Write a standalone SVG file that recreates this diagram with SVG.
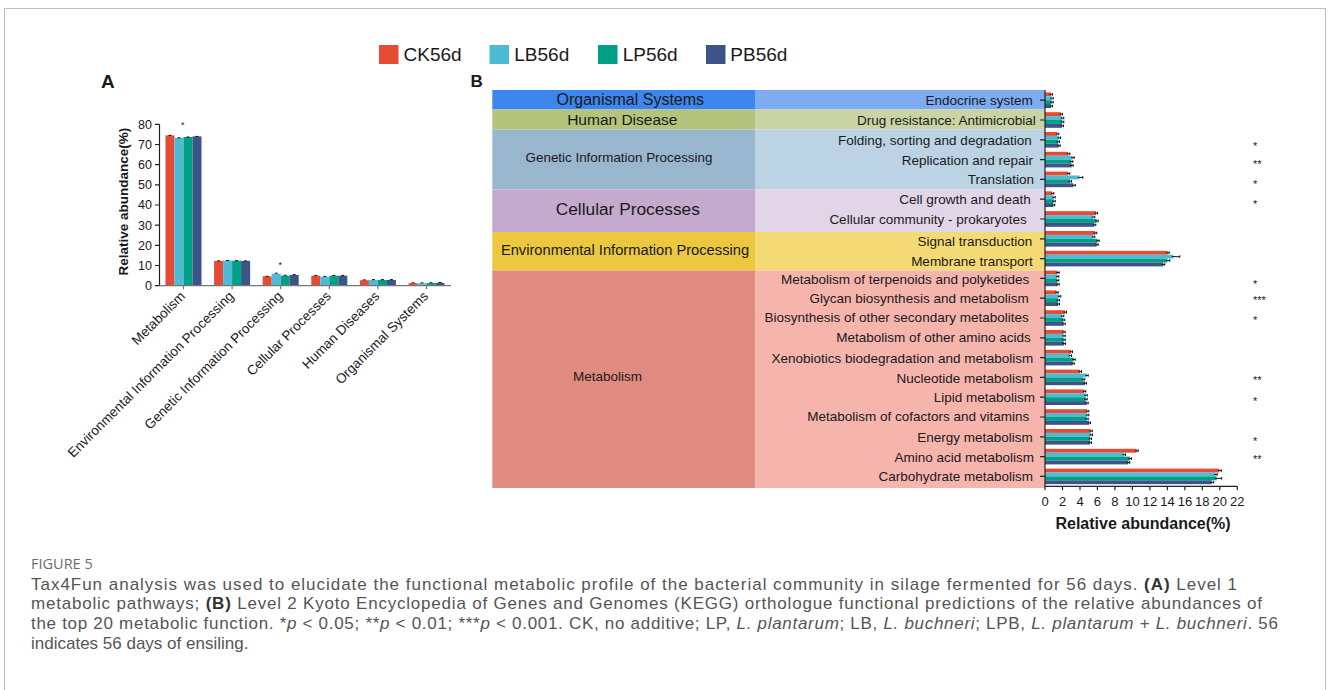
<svg xmlns="http://www.w3.org/2000/svg" width="1328" height="690" viewBox="0 0 1328 690">
<style>
text{font-family:"Liberation Sans",Arial,sans-serif;fill:#1a1a1a}
.ck{fill:#E64B35}.lb{fill:#4DBBD5}.lp{fill:#00A087}.pb{fill:#3C5488}
.eb{stroke:#111;stroke-width:1;fill:none}
.ax{stroke:#222;stroke-width:1.2;fill:none}
.tk{font-size:12.5px;text-anchor:end}
.xl{font-size:13.5px;text-anchor:end}
.rl{font-size:13.5px;text-anchor:end}
.st{font-size:11px}
.bt{font-size:13px;text-anchor:middle}
.cap{font-family:"Liberation Sans",Arial,sans-serif;font-size:17px;fill:#555}
.cap tspan.b{font-weight:bold;fill:#333}
.cap tspan.i{font-style:italic}
</style>
<rect width="1328" height="690" fill="#fff"/>
<rect x="4.5" y="8.5" width="1321" height="700" fill="none" stroke="#bdbdbd" stroke-width="1"/>

<g id="legend">
<rect class="ck" x="379" y="45" width="19.5" height="19"/><text x="403.5" y="61" font-size="19">CK56d</text>
<rect class="lb" x="489.5" y="45" width="19.5" height="19"/><text x="514.3" y="61" font-size="19">LB56d</text>
<rect class="lp" x="598" y="45" width="19.5" height="19"/><text x="622.7" y="61" font-size="19">LP56d</text>
<rect class="pb" x="706" y="45" width="19.5" height="19"/><text x="730.3" y="61" font-size="19">PB56d</text>
</g>

<g id="panelA">
<text x="101" y="88" font-size="19" font-weight="bold">A</text>
<text transform="translate(127.5,201.7) rotate(-90)" font-size="13.5" font-weight="bold" text-anchor="middle">Relative abundance(%)</text>
<g id="A-yaxis">
<path class="ax" d="M159.5,124.3V285.7M155,285.7h4.5M155,265.5h4.5M155,245.3h4.5M155,225.2h4.5M155,205h4.5M155,184.8h4.5M155,164.7h4.5M155,144.5h4.5M155,124.3h4.5"/>
<text class="tk" x="152" y="290.1">0</text>
<text class="tk" x="152" y="269.9">10</text>
<text class="tk" x="152" y="249.7">20</text>
<text class="tk" x="152" y="229.6">30</text>
<text class="tk" x="152" y="209.4">40</text>
<text class="tk" x="152" y="189.2">50</text>
<text class="tk" x="152" y="169.1">60</text>
<text class="tk" x="152" y="148.9">70</text>
<text class="tk" x="152" y="128.7">80</text>
</g>
<g id="A-bars">
<rect class="ck" x="165.5" y="135.4" width="9" height="150.3"/><rect class="lb" x="174.5" y="137.8" width="9" height="147.9"/><rect class="lp" x="183.5" y="137" width="9" height="148.7"/><rect class="pb" x="192.5" y="136.4" width="9" height="149.3"/>
<rect class="ck" x="214.1" y="260.9" width="9" height="24.8"/><rect class="lb" x="223.1" y="260.5" width="9" height="25.2"/><rect class="lp" x="232.1" y="260.7" width="9" height="25"/><rect class="pb" x="241.1" y="260.9" width="9" height="24.8"/>
<rect class="ck" x="262.7" y="276.3" width="9" height="9.4"/><rect class="lb" x="271.7" y="273.7" width="9" height="12"/><rect class="lp" x="280.7" y="275.7" width="9" height="10"/><rect class="pb" x="289.7" y="275" width="9" height="10.7"/>
<rect class="ck" x="311.3" y="275.7" width="9" height="10"/><rect class="lb" x="320.3" y="276.7" width="9" height="9"/><rect class="lp" x="329.3" y="275.7" width="9" height="10"/><rect class="pb" x="338.3" y="275.7" width="9" height="10"/>
<rect class="ck" x="359.9" y="280.2" width="9" height="5.5"/><rect class="lb" x="368.9" y="280" width="9" height="5.7"/><rect class="lp" x="377.9" y="280" width="9" height="5.7"/><rect class="pb" x="386.9" y="280" width="9" height="5.7"/>
<rect class="ck" x="408.5" y="283.2" width="9" height="2.5"/><rect class="lb" x="417.5" y="283.3" width="9" height="2.4"/><rect class="lp" x="426.5" y="283.1" width="9" height="2.6"/><rect class="pb" x="435.5" y="282.9" width="9" height="2.8"/>
<path class="eb" d="M168.5,135.4h3M177.5,137.8h3M186.5,137h3M195.5,136.4h3M217.1,260.9h3M226.1,260.5h3M235.1,260.7h3M244.1,260.9h3M265.7,276.3h3M274.7,273.2h3M283.7,275.3h3M292.7,274.6h3M314.3,275.4h3M323.3,276.4h3M332.3,275.4h3M341.3,275.4h3M362.9,279.9h3M371.9,279.6h3M380.9,279.6h3M389.9,279.6h3M411.5,282.8h3M420.5,282.9h3M429.5,282.7h3M438.5,282.5h3"/>
</g>
<path d="M159.5,285.7H451M183.5,285.7v3.5M232.1,285.7v3.5M280.7,285.7v3.5M329.3,285.7v3.5M377.9,285.7v3.5M426.5,285.7v3.5" stroke="#777" stroke-width="1.2" fill="none"/>
<text x="182.7" y="128" font-size="9" text-anchor="middle">*</text>
<text x="280.3" y="268" font-size="9" text-anchor="middle">*</text>
<g id="A-xlabels">
<text class="xl" transform="translate(186,297) rotate(-45)">Metabolism</text>
<text class="xl" transform="translate(234.6,297) rotate(-45)">Environmental Information Processing</text>
<text class="xl" transform="translate(283.2,297) rotate(-45)">Genetic Information Processing</text>
<text class="xl" transform="translate(331.8,297) rotate(-45)">Cellular Processes</text>
<text class="xl" transform="translate(380.4,297) rotate(-45)">Human Diseases</text>
<text class="xl" transform="translate(429,297) rotate(-45)">Organismal Systems</text>
</g>
</g>

<g id="panelB">
<text x="470.5" y="87" font-size="17" font-weight="bold">B</text>
<g id="B-bands">
<rect x="492.3" y="90" width="262.7" height="19.5" fill="#3d86ee"/><rect x="755" y="90" width="290" height="19.5" fill="#7eabf2"/>
<rect x="492.3" y="109.5" width="262.7" height="20" fill="#b4c47d"/><rect x="755" y="109.5" width="290" height="20" fill="#c9d3a3"/>
<rect x="492.3" y="129.5" width="262.7" height="60" fill="#99b6cf"/><rect x="755" y="129.5" width="290" height="60" fill="#bcd3e3"/>
<rect x="492.3" y="189.5" width="262.7" height="42.5" fill="#c4aacd"/><rect x="755" y="189.5" width="290" height="42.5" fill="#e3d5e8"/>
<rect x="492.3" y="232" width="262.7" height="38.5" fill="#ebc83f"/><rect x="755" y="232" width="290" height="38.5" fill="#f3da74"/>
<rect x="492.3" y="270.5" width="262.7" height="217.5" fill="#e08b80"/><rect x="755" y="270.5" width="290" height="217.5" fill="#f5b5ad"/>
</g>
<g id="B-groups">
<text x="630.3" y="105" font-size="16" text-anchor="middle">Organismal Systems</text>
<text x="622.3" y="124.5" font-size="15.5" text-anchor="middle">Human Disease</text>
<text x="619" y="162" font-size="13.4" text-anchor="middle">Genetic Information Processing</text>
<text x="627.8" y="215" font-size="17.3" text-anchor="middle">Cellular Processes</text>
<text x="625" y="255" font-size="14.7" text-anchor="middle">Environmental Information Processing</text>
<text x="607.5" y="381" font-size="13.5" text-anchor="middle">Metabolism</text>
</g>
<g id="B-labels">
<text class="rl" x="1032.7" y="105.2">Endocrine system</text>
<text class="rl" x="1035.7" y="124.5">Drug resistance: Antimicrobial</text>
<text class="rl" x="1031.7" y="144.5">Folding, sorting and degradation</text>
<text class="rl" x="1033" y="164.5">Replication and repair</text>
<text class="rl" x="1034" y="183.8">Translation</text>
<text class="rl" x="1030.7" y="203.8">Cell growth and death</text>
<text class="rl" x="1026.7" y="223.8">Cellular community - prokaryotes</text>
<text class="rl" x="1032.3" y="245.5">Signal transduction</text>
<text class="rl" x="1032.7" y="265.5">Membrane transport</text>
<text class="rl" x="1029.3" y="283.8">Metabolism of terpenoids and polyketides</text>
<text class="rl" x="1028.7" y="302.8">Glycan biosynthesis and metabolism</text>
<text class="rl" x="1028.7" y="322.2">Biosynthesis of other secondary metabolites</text>
<text class="rl" x="1030.7" y="342.2">Metabolism of other amino acids</text>
<text class="rl" x="1033.3" y="362.8">Xenobiotics biodegradation and metabolism</text>
<text class="rl" x="1033" y="382.8">Nucleotide metabolism</text>
<text class="rl" x="1035" y="401.8">Lipid metabolism</text>
<text class="rl" x="1029.3" y="421.2">Metabolism of cofactors and vitamins</text>
<text class="rl" x="1032.7" y="441.8">Energy metabolism</text>
<text class="rl" x="1034" y="461.8">Amino acid metabolism</text>
<text class="rl" x="1033" y="481.2">Carbohydrate metabolism</text>
</g>
<g id="B-bars">
<g transform="translate(0,100.2)"><rect class="ck" x="1045" y="-7.8" width="6" height="3.9"/><rect class="lb" x="1045" y="-3.9" width="6.7" height="3.9"/><rect class="lp" x="1045" y="0" width="6.7" height="3.9"/><rect class="pb" x="1045" y="3.9" width="6" height="3.9"/><path class="eb" d="M1049.5,-5.85h3m0,-1.3v2.6M1050.2,-1.95h3m0,-1.3v2.6M1050.2,1.95h3m0,-1.3v2.6M1049.5,5.85h3m0,-1.3v2.6"/></g>
<g transform="translate(0,120)"><rect class="ck" x="1045" y="-7.8" width="16" height="3.9"/><rect class="lb" x="1045" y="-3.9" width="17.3" height="3.9"/><rect class="lp" x="1045" y="0" width="17.3" height="3.9"/><rect class="pb" x="1045" y="3.9" width="17" height="3.9"/><path class="eb" d="M1059.5,-5.85h3m0,-1.3v2.6M1060.8,-1.95h3m0,-1.3v2.6M1060.8,1.95h3m0,-1.3v2.6M1060.5,5.85h3m0,-1.3v2.6"/></g>
<g transform="translate(0,139.8)"><rect class="ck" x="1045" y="-7.8" width="12.3" height="3.9"/><rect class="lb" x="1045" y="-3.9" width="14" height="3.9"/><rect class="lp" x="1045" y="0" width="13" height="3.9"/><rect class="pb" x="1045" y="3.9" width="13.7" height="3.9"/><path class="eb" d="M1055.8,-5.85h3m0,-1.3v2.6M1057.5,-1.95h3m0,-1.3v2.6M1056.5,1.95h3m0,-1.3v2.6M1057.2,5.85h3m0,-1.3v2.6"/></g>
<g transform="translate(0,159.6)"><rect class="ck" x="1045" y="-7.8" width="23.3" height="3.9"/><rect class="lb" x="1045" y="-3.9" width="27.7" height="3.9"/><rect class="lp" x="1045" y="0" width="26.3" height="3.9"/><rect class="pb" x="1045" y="3.9" width="26.7" height="3.9"/><path class="eb" d="M1066.8,-5.85h3m0,-1.3v2.6M1071.2,-1.95h3m0,-1.3v2.6M1069.8,1.95h3m0,-1.3v2.6M1070.2,5.85h3m0,-1.3v2.6"/></g>
<g transform="translate(0,179.4)"><rect class="ck" x="1045" y="-7.8" width="23.3" height="3.9"/><rect class="lb" x="1045" y="-3.9" width="34.3" height="3.9"/><rect class="lp" x="1045" y="0" width="25" height="3.9"/><rect class="pb" x="1045" y="3.9" width="28.3" height="3.9"/><path class="eb" d="M1066.8,-5.85h3m0,-1.3v2.6M1077.8,-1.95h5m0,-1.3v2.6M1068.5,1.95h3m0,-1.3v2.6M1071.8,5.85h3.5m0,-1.3v2.6"/></g>
<g transform="translate(0,199.2)"><rect class="ck" x="1045" y="-7.8" width="7.3" height="3.9"/><rect class="lb" x="1045" y="-3.9" width="8.7" height="3.9"/><rect class="lp" x="1045" y="0" width="8.7" height="3.9"/><rect class="pb" x="1045" y="3.9" width="8.3" height="3.9"/><path class="eb" d="M1050.8,-5.85h3m0,-1.3v2.6M1052.2,-1.95h3m0,-1.3v2.6M1052.2,1.95h3m0,-1.3v2.6M1051.8,5.85h3m0,-1.3v2.6"/></g>
<g transform="translate(0,219)"><rect class="ck" x="1045" y="-7.8" width="51" height="3.9"/><rect class="lb" x="1045" y="-3.9" width="48.3" height="3.9"/><rect class="lp" x="1045" y="0" width="51.7" height="3.9"/><rect class="pb" x="1045" y="3.9" width="49.3" height="3.9"/><path class="eb" d="M1094.5,-5.85h3m0,-1.3v2.6M1091.8,-1.95h3m0,-1.3v2.6M1095.2,1.95h3m0,-1.3v2.6M1092.8,5.85h3m0,-1.3v2.6"/></g>
<g transform="translate(0,238.8)"><rect class="ck" x="1045" y="-7.8" width="50.3" height="3.9"/><rect class="lb" x="1045" y="-3.9" width="48.3" height="3.9"/><rect class="lp" x="1045" y="0" width="52.7" height="3.9"/><rect class="pb" x="1045" y="3.9" width="51.7" height="3.9"/><path class="eb" d="M1093.8,-5.85h3m0,-1.3v2.6M1091.8,-1.95h3m0,-1.3v2.6M1096.2,1.95h3m0,-1.3v2.6M1095.2,5.85h3m0,-1.3v2.6"/></g>
<g transform="translate(0,258.6)"><rect class="ck" x="1045" y="-7.8" width="122.7" height="3.9"/><rect class="lb" x="1045" y="-3.9" width="128.3" height="3.9"/><rect class="lp" x="1045" y="0" width="122.3" height="3.9"/><rect class="pb" x="1045" y="3.9" width="118.3" height="3.9"/><path class="eb" d="M1166.2,-5.85h3m0,-1.3v2.6M1171.8,-1.95h8m0,-1.3v2.6M1165.8,1.95h4m0,-1.3v2.6M1161.8,5.85h3m0,-1.3v2.6"/></g>
<g transform="translate(0,278.4)"><rect class="ck" x="1045" y="-7.8" width="12.7" height="3.9"/><rect class="lb" x="1045" y="-3.9" width="12.3" height="3.9"/><rect class="lp" x="1045" y="0" width="12.3" height="3.9"/><rect class="pb" x="1045" y="3.9" width="12.7" height="3.9"/><path class="eb" d="M1056.2,-5.85h3m0,-1.3v2.6M1055.8,-1.95h3m0,-1.3v2.6M1055.8,1.95h3m0,-1.3v2.6M1056.2,5.85h3m0,-1.3v2.6"/></g>
<g transform="translate(0,298.2)"><rect class="ck" x="1045" y="-7.8" width="11.7" height="3.9"/><rect class="lb" x="1045" y="-3.9" width="14.3" height="3.9"/><rect class="lp" x="1045" y="0" width="13" height="3.9"/><rect class="pb" x="1045" y="3.9" width="13" height="3.9"/><path class="eb" d="M1055.2,-5.85h3m0,-1.3v2.6M1057.8,-1.95h3m0,-1.3v2.6M1056.5,1.95h3m0,-1.3v2.6M1056.5,5.85h3m0,-1.3v2.6"/></g>
<g transform="translate(0,318)"><rect class="ck" x="1045" y="-7.8" width="20" height="3.9"/><rect class="lb" x="1045" y="-3.9" width="17.3" height="3.9"/><rect class="lp" x="1045" y="0" width="18.3" height="3.9"/><rect class="pb" x="1045" y="3.9" width="18.7" height="3.9"/><path class="eb" d="M1063.5,-5.85h3m0,-1.3v2.6M1060.8,-1.95h3m0,-1.3v2.6M1061.8,1.95h3m0,-1.3v2.6M1062.2,5.85h3m0,-1.3v2.6"/></g>
<g transform="translate(0,337.8)"><rect class="ck" x="1045" y="-7.8" width="18.7" height="3.9"/><rect class="lb" x="1045" y="-3.9" width="18.7" height="3.9"/><rect class="lp" x="1045" y="0" width="18.7" height="3.9"/><rect class="pb" x="1045" y="3.9" width="19" height="3.9"/><path class="eb" d="M1062.2,-5.85h3m0,-1.3v2.6M1062.2,-1.95h3m0,-1.3v2.6M1062.2,1.95h3m0,-1.3v2.6M1062.5,5.85h3m0,-1.3v2.6"/></g>
<g transform="translate(0,357.6)"><rect class="ck" x="1045" y="-7.8" width="26" height="3.9"/><rect class="lb" x="1045" y="-3.9" width="25" height="3.9"/><rect class="lp" x="1045" y="0" width="28.7" height="3.9"/><rect class="pb" x="1045" y="3.9" width="27.7" height="3.9"/><path class="eb" d="M1069.5,-5.85h3m0,-1.3v2.6M1068.5,-1.95h3m0,-1.3v2.6M1072.2,1.95h3m0,-1.3v2.6M1071.2,5.85h3m0,-1.3v2.6"/></g>
<g transform="translate(0,377.4)"><rect class="ck" x="1045" y="-7.8" width="35" height="3.9"/><rect class="lb" x="1045" y="-3.9" width="41.7" height="3.9"/><rect class="lp" x="1045" y="0" width="38.3" height="3.9"/><rect class="pb" x="1045" y="3.9" width="40" height="3.9"/><path class="eb" d="M1078.5,-5.85h3m0,-1.3v2.6M1085.2,-1.95h3m0,-1.3v2.6M1081.8,1.95h3m0,-1.3v2.6M1083.5,5.85h3m0,-1.3v2.6"/></g>
<g transform="translate(0,397.2)"><rect class="ck" x="1045" y="-7.8" width="39.3" height="3.9"/><rect class="lb" x="1045" y="-3.9" width="40.7" height="3.9"/><rect class="lp" x="1045" y="0" width="40.7" height="3.9"/><rect class="pb" x="1045" y="3.9" width="41.7" height="3.9"/><path class="eb" d="M1082.8,-5.85h3m0,-1.3v2.6M1084.2,-1.95h3m0,-1.3v2.6M1084.2,1.95h3m0,-1.3v2.6M1085.2,5.85h3m0,-1.3v2.6"/></g>
<g transform="translate(0,417)"><rect class="ck" x="1045" y="-7.8" width="42.3" height="3.9"/><rect class="lb" x="1045" y="-3.9" width="42.3" height="3.9"/><rect class="lp" x="1045" y="0" width="41.7" height="3.9"/><rect class="pb" x="1045" y="3.9" width="44" height="3.9"/><path class="eb" d="M1085.8,-5.85h3m0,-1.3v2.6M1085.8,-1.95h3m0,-1.3v2.6M1085.2,1.95h3m0,-1.3v2.6M1087.5,5.85h3m0,-1.3v2.6"/></g>
<g transform="translate(0,436.8)"><rect class="ck" x="1045" y="-7.8" width="45.7" height="3.9"/><rect class="lb" x="1045" y="-3.9" width="46" height="3.9"/><rect class="lp" x="1045" y="0" width="45" height="3.9"/><rect class="pb" x="1045" y="3.9" width="45" height="3.9"/><path class="eb" d="M1089.2,-5.85h3m0,-1.3v2.6M1089.5,-1.95h3m0,-1.3v2.6M1088.5,1.95h3m0,-1.3v2.6M1088.5,5.85h3m0,-1.3v2.6"/></g>
<g transform="translate(0,456.6)"><rect class="ck" x="1045" y="-7.8" width="91.7" height="3.9"/><rect class="lb" x="1045" y="-3.9" width="79" height="3.9"/><rect class="lp" x="1045" y="0" width="85" height="3.9"/><rect class="pb" x="1045" y="3.9" width="83.3" height="3.9"/><path class="eb" d="M1135.2,-5.85h3m0,-1.3v2.6M1122.5,-1.95h3m0,-1.3v2.6M1128.5,1.95h3m0,-1.3v2.6M1126.8,5.85h3m0,-1.3v2.6"/></g>
<g transform="translate(0,476.4)"><rect class="ck" x="1045" y="-7.8" width="174.3" height="3.9"/><rect class="lb" x="1045" y="-3.9" width="170.7" height="3.9"/><rect class="lp" x="1045" y="0" width="171.7" height="3.9"/><rect class="pb" x="1045" y="3.9" width="166.7" height="3.9"/><path class="eb" d="M1217.8,-5.85h3.5m0,-1.3v2.6M1214.2,-1.95h3m0,-1.3v2.6M1215.2,1.95h6.5m0,-1.3v2.6M1210.2,5.85h3.5m0,-1.3v2.6"/></g>
</g>
<g id="B-axes">
<path class="ax" d="M1045,90V486.3H1237.3"/>
<path class="ax" d="M1040,100.2h5M1040,120h5M1040,139.8h5M1040,159.6h5M1040,179.4h5M1040,199.2h5M1040,219h5M1040,238.8h5M1040,258.6h5M1040,278.4h5M1040,298.2h5M1040,318h5M1040,337.8h5M1040,357.6h5M1040,377.4h5M1040,397.2h5M1040,417h5M1040,436.8h5M1040,456.6h5M1040,476.4h5"/>
<path class="ax" d="M1045,486.3v4M1062.5,486.3v4M1080,486.3v4M1097.4,486.3v4M1114.9,486.3v4M1132.4,486.3v4M1149.9,486.3v4M1167.4,486.3v4M1184.9,486.3v4M1202.3,486.3v4M1219.8,486.3v4M1237.3,486.3v4"/>
<text class="bt" x="1045" y="505.7">0</text>
<text class="bt" x="1062.5" y="505.7">2</text>
<text class="bt" x="1080" y="505.7">4</text>
<text class="bt" x="1097.4" y="505.7">6</text>
<text class="bt" x="1114.9" y="505.7">8</text>
<text class="bt" x="1132.4" y="505.7">10</text>
<text class="bt" x="1149.9" y="505.7">12</text>
<text class="bt" x="1167.4" y="505.7">14</text>
<text class="bt" x="1184.9" y="505.7">16</text>
<text class="bt" x="1202.3" y="505.7">18</text>
<text class="bt" x="1219.8" y="505.7">20</text>
<text class="bt" x="1237.3" y="505.7">22</text>
<text x="1143" y="528.5" font-size="16" font-weight="bold" text-anchor="middle">Relative abundance(%)</text>
</g>
<g id="B-stars">
<text class="st" x="1253" y="150.3">*</text>
<text class="st" x="1253" y="167.7">**</text>
<text class="st" x="1253" y="187.7">*</text>
<text class="st" x="1253" y="207.7">*</text>
<text class="st" x="1253" y="288">*</text>
<text class="st" x="1253" y="304.3">***</text>
<text class="st" x="1253" y="324.3">*</text>
<text class="st" x="1253" y="384.3">**</text>
<text class="st" x="1253" y="405.3">*</text>
<text class="st" x="1253" y="445">*</text>
<text class="st" x="1253" y="462.7">**</text>
</g>
</g>

<g id="caption">
<text x="31" y="569" style="fill:#6b6b6b;font-family:'Open Sans','Noto Sans',sans-serif;font-size:14.5px">FIGURE 5</text>
<text class="cap" x="31" y="589.5" textLength="1206" lengthAdjust="spacing">Tax4Fun analysis was used to elucidate the functional metabolic profile of the bacterial community in silage fermented for 56 days. <tspan class="b">(A)</tspan> Level 1</text>
<text class="cap" x="31" y="609.3" textLength="1231" lengthAdjust="spacing">metabolic pathways; <tspan class="b">(B)</tspan> Level 2 Kyoto Encyclopedia of Genes and Genomes (KEGG) orthologue functional predictions of the relative abundances of</text>
<text class="cap" x="31" y="629.1" textLength="1247" lengthAdjust="spacing">the top 20 metabolic function. *<tspan class="i">p</tspan> &lt; 0.05; **<tspan class="i">p</tspan> &lt; 0.01; ***<tspan class="i">p</tspan> &lt; 0.001. CK, no additive; LP, <tspan class="i">L. plantarum</tspan>; LB, <tspan class="i">L. buchneri</tspan>; LPB, <tspan class="i">L. plantarum + L. buchneri</tspan>. 56</text>
<text class="cap" x="31" y="648.9">indicates 56 days of ensiling.</text>
</g>
</svg>
